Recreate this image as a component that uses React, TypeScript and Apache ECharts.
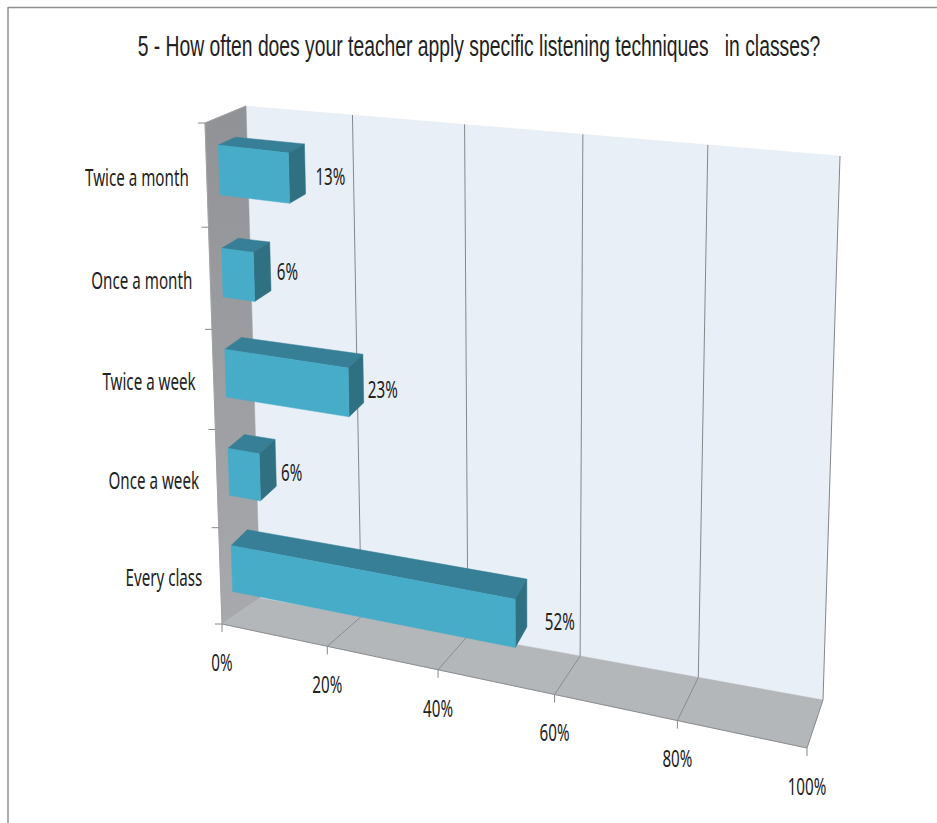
import React, { useEffect, useRef } from "react";
import * as echarts from "echarts";

const titleText = "5 - How often does your teacher apply specific listening techniques   in classes?";
const categories = ["Every class", "Once a week", "Twice a week", "Once a month", "Twice a month"];
const percentValues = [52, 6, 23, 6, 13];
const axisTicks = [0, 20, 40, 60, 80, 100];

type P = [number, number];
// corners of the drawn box, order: bottom-left, bottom-right, top-right, top-left
const BACK: P[] = [[260, 598], [823, 700], [840, 156], [246, 106]];
const FRONT: P[] = [[222, 624], [807, 748], [821, 195], [205, 123]];
const FORESHORTEN = 0.024;
const BAR_D0 = 0.3;
const BAR_D1 = 0.72;
const BAR_BACK_LIFT = 6;
const BAR_HALF_BAND = 0.24;
const VALUE_LABEL_NUDGE: P[] = [[18, 18], [6, 9], [5, 11], [7, 5], [11, 7]];
const LABEL_FONT = '"Noto Sans"';
const LABEL_SIZE = 23;
const LABEL_SCALE = 0.66;

function homography(q: P[]) {
  const [[x0, y0], [x1, y1], [x2, y2], [x3, y3]] = q;
  const dx1 = x1 - x2, dx2 = x3 - x2, sx = x0 - x1 + x2 - x3;
  const dy1 = y1 - y2, dy2 = y3 - y2, sy = y0 - y1 + y2 - y3;
  const den = dx1 * dy2 - dx2 * dy1;
  const g = (sx * dy2 - dx2 * sy) / den;
  const h = (dx1 * sy - sx * dy1) / den;
  const a = x1 - x0 + g * x1, b = x3 - x0 + h * x3;
  const d = y1 - y0 + g * y1, e = y3 - y0 + h * y3;
  return (u: number, v: number): P => {
    const w = g * u + h * v + 1;
    return [(a * u + b * v + x0) / w, (d * u + e * v + y0) / w];
  };
}
const backPlane = homography(BACK);
const frontPlane = homography(FRONT);
function project(u0: number, v: number, depth: number): P {
  const u = u0 - FORESHORTEN * u0 * (1 - u0);
  const f = frontPlane(u, v), b = backPlane(u, v);
  return [f[0] + (b[0] - f[0]) * depth, f[1] + (b[1] - f[1]) * depth];
}
function projectBarBack(u: number, v: number, vMid: number): P {
  const p = project(u, v, BAR_D1);
  return [p[0], p[1] - BAR_BACK_LIFT * (1 - vMid)];
}

function normaliser(params: any, api: any) {
  const cs = params.coordSys;
  return (value: number, cat: number, bandShift = 0): P => {
    const p = api.coord([value, cat]);
    const band = api.size([0, 1])[1];
    return [(p[0] - cs.x) / cs.width, 1 - (p[1] - bandShift * band - cs.y) / cs.height];
  };
}

const poly = (points: P[], fill: any, stroke?: string) => ({
  type: "polygon",
  silent: true,
  shape: { points },
  style: { fill, stroke: stroke ?? fill, lineWidth: stroke ? 1 : 0.5 },
});
const seg = (a: P, b: P, stroke = "#85888b", lineWidth = 1) => ({
  type: "line",
  silent: true,
  shape: { x1: a[0], y1: a[1], x2: b[0], y2: b[1] },
  style: { stroke, lineWidth },
});
const label = (text: string, x: number, y: number, align: string) => ({
  type: "text",
  silent: true,
  x,
  y,
  scaleX: LABEL_SCALE,
  style: {
    text,
    x: 0,
    y: 0,
    align,
    verticalAlign: "middle",
    font: `${LABEL_SIZE}px ${LABEL_FONT}`,
    fill: "#222222",
  },
});

function App() {
  const ref = useRef<HTMLDivElement>(null);
  useEffect(() => {
    document.body.style.margin = "0";
    const chart = echarts.init(ref.current!, undefined, { renderer: "svg" });
    chart.setOption({
      animation: false,
      backgroundColor: "#ffffff",
      grid: { left: 0, top: 0, width: 937, height: 823 },
      xAxis: { type: "value", min: 0, max: 100, interval: 20, show: false },
      yAxis: { type: "category", data: categories, show: false },
      graphic: [
        { type: "line", silent: true, shape: { x1: 8, y1: 7.5, x2: 937, y2: 7.5 }, style: { stroke: "#8f8f8f", lineWidth: 1.5 } },
        { type: "line", silent: true, shape: { x1: 8, y1: 7, x2: 8, y2: 823 }, style: { stroke: "#8f8f8f", lineWidth: 1.5 } },
        {
          type: "text",
          silent: true,
          x: 479,
          y: 45,
          scaleX: 0.644,
          style: {
            text: titleText,
            x: 0,
            y: 0,
            align: "center",
            verticalAlign: "middle",
            font: '30px "Liberation Sans"',
            fill: "#222222",
          },
        },
      ],
      series: [
        {
          type: "custom",
          coordinateSystem: "cartesian2d",
          clip: false,
          silent: true,
          data: [[0, 0]],
          renderItem: () => ({
            type: "group",
            children: [
              poly(
                [project(0, 0, 1), project(1, 0, 1), project(1, 1, 1), project(0, 1, 1)],
                "#e8eff6"
              ),
              poly(
                [project(0, 0, 0), project(0, 0, 1), project(0, 1, 1), project(0, 1, 0)],
                new echarts.graphic.LinearGradient(0, 0, 0, 1, [
                  { offset: 0, color: "#909296" },
                  { offset: 1, color: "#a7a9ac" },
                ])
              ),
              poly(
                [project(0, 0, 0), project(1, 0, 0), project(1, 0, 1), project(0, 0, 1)],
                "#b3b7ba"
              ),
              seg(project(0, 0, 0), project(1, 0, 0), "#8b8d90"),
              seg(project(0, 0, 0), project(0, 1, 0), "#a0a2a5"),
              seg(project(0, 1, 0), project(0, 1, 1), "#a0a2a5"),
            ],
          }),
        },
        {
          type: "custom",
          coordinateSystem: "cartesian2d",
          clip: false,
          silent: true,
          data: axisTicks.map((t) => [t, 0]),
          renderItem: (params: any, api: any) => {
            const tick = api.value(0);
            const u = normaliser(params, api)(tick, 0)[0];
            const foot = project(u, 0, 0);
            const corner = project(u, 0, 1);
            const children: any[] = [
              seg([foot[0], foot[1]], [foot[0], foot[1] + 8], "#85888b"),
              label(`${tick}%`, foot[0], foot[1] + 38, "center"),
            ];
            if (tick > 0) {
              children.push(seg(corner, project(u, 1, 1), "#85888b"));
              children.push(seg(foot, corner, "#8b8d90"));
            }
            return { type: "group", children };
          },
        },
        {
          type: "custom",
          coordinateSystem: "cartesian2d",
          clip: false,
          silent: true,
          data: percentValues.map((val, i) => [val, i]),
          renderItem: (params: any, api: any) => {
            const val = api.value(0);
            const cat = api.value(1);
            const norm = normaliser(params, api);
            const u = norm(val, cat)[0];
            const u0 = norm(0, cat)[0];
            const vLow = norm(val, cat, -BAR_HALF_BAND)[1];
            const vHigh = norm(val, cat, BAR_HALF_BAND)[1];
            const vMid = norm(val, cat)[1];
            const vBand = norm(val, cat, 0.5)[1];
            const fbl = project(u0, vLow, BAR_D0);
            const fbr = project(u, vLow, BAR_D0);
            const ftr = project(u, vHigh, BAR_D0);
            const ftl = project(u0, vHigh, BAR_D0);
            const bbr = projectBarBack(u, vLow, vMid);
            const btr = projectBarBack(u, vHigh, vMid);
            const btl = projectBarBack(u0, vHigh, vMid);
            const edge = project(0, vMid, 0);
            const nudge = VALUE_LABEL_NUDGE[cat];
            const tickAt = project(0, vBand, 0);
            const children: any[] = [
              poly([ftl, ftr, btr, btl], "#367f97"),
              poly([fbr, bbr, btr, ftr], "#2f7082"),
              poly([fbl, fbr, ftr, ftl], "#46acc8"),
              seg([tickAt[0] - 7, tickAt[1]], tickAt, "#85888b"),
              label(categories[cat], edge[0] - 18, edge[1] + 1.5, "right"),
              label(`${val}%`, btr[0] + nudge[0], (btr[1] + bbr[1]) / 2 + nudge[1], "left"),
            ];
            if (cat === 0) {
              const base = project(0, 0, 0);
              children.push(seg([base[0] - 7, base[1]], base, "#85888b"));
            }
            return { type: "group", children };
          },
        },
      ],
    });
    return () => chart.dispose();
  }, []);
  return <div ref={ref} style={{ width: 937, height: 823 }} />;
}

export default App;
